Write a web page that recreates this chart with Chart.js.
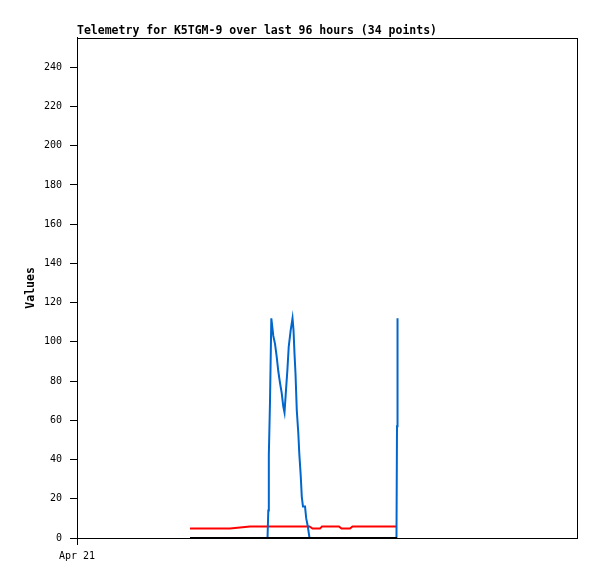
<!DOCTYPE html>
<html>
<head>
<meta charset="utf-8">
<script src="https://cdn.jsdelivr.net/npm/chart.js@4"></script>
<style>
  body { margin: 0; background: #fff; }
</style>
</head>
<body>
<canvas id="telemetryChart" width="597" height="579"></canvas>
<script>
// hours since Apr 21 00:00
const hours = [21.70, 29.38, 33.22, 36.58, 36.73, 36.83, 37.06, 37.31, 37.69, 38.02, 38.34, 38.65,
    38.98, 39.30, 39.61, 39.84, 40.13, 40.38, 40.65, 41.03, 41.38, 41.57, 41.76, 41.95, 42.20, 42.49,
    42.68, 42.95, 43.16, 43.39, 43.78, 44.01, 44.31, 44.64, 45.22, 46.66, 47.04, 50.30, 50.78, 52.42,
    52.90, 61.34, 61.44, 61.54];
const blueValues = [0, 0, 0, 0, 14, 42, 70, 112, 103, 99, 92.5, 85, 79, 74, 67, 64, 75.5, 85, 97.5,
    106, 112, 106, 94, 84, 65, 53.5, 43, 32, 21, 16, 16, 10, 6, 0, 0, 0, 0, 0, 0, 0, 0, 0, 57, 112];
const redValues = [4.8, 4.8, 5.9, 5.9, 5.9, 5.9, 5.9, 5.9, 5.9, 5.9, 5.9, 5.9, 5.9, 5.9, 5.9, 5.9,
    5.9, 5.9, 5.9, 5.9, 5.9, 5.9, 5.9, 5.9, 5.9, 5.9, 5.9, 5.9, 5.9, 5.9, 5.9, 5.9, 5.9, 5.9,
    4.8, 4.8, 5.9, 5.9, 4.8, 4.8, 5.9, 5.9, 5.9, 5.9];
const blackValues = hours.map(() => 0);

const yTicks = [0, 20, 40, 60, 80, 100, 120, 140, 160, 180, 200, 220, 240];
const xTicks = [0];
const xTickLabels = ['Apr 21'];

const toPoints = vals => vals.map((v, i) => ({ x: hours[i], y: v }));

// frame round the plot area
const frame = {
    id: 'frame',
    afterDraw(chart) {
        const a = chart.chartArea;
        const ctx = chart.ctx;
        ctx.save();
        ctx.strokeStyle = '#000';
        ctx.lineWidth = 1;
        ctx.strokeRect(Math.round(a.left) + 0.5, Math.round(a.top) + 0.5,
            Math.round(a.right - a.left), Math.round(a.bottom - a.top));
        ctx.restore();
    }
};

const mono = '"DejaVu Sans Mono", "Liberation Mono", monospace';

new Chart(document.getElementById('telemetryChart'), {
    type: 'line',
    data: {
        datasets: [
            { data: toPoints(blackValues), borderColor: '#000000', borderWidth: 2 },
            { data: toPoints(blueValues), borderColor: '#0066cc', borderWidth: 2 },
            { data: toPoints(redValues), borderColor: '#ff0000', borderWidth: 2 }
        ]
    },
    options: {
        responsive: false,
        animation: false,
        layout: { padding: { left: 0, right: 20, top: 0, bottom: 0 } },
        elements: { point: { radius: 0 }, line: { tension: 0 } },
        plugins: {
            legend: { display: false },
            tooltip: { enabled: false },
            title: {
                display: true,
                text: 'Telemetry for K5TGM-9 over last 96 hours (34 points)',
                align: 'start',
                fullSize: false,
                color: '#000',
                font: { family: mono, size: 11.5, weight: 'bold' },
                padding: { top: 24, bottom: 0 }
            }
        },
        scales: {
            x: {
                type: 'linear',
                min: 0,
                max: 96,
                afterBuildTicks: s => { s.ticks = xTicks.map(v => ({ value: v })); },
                afterFit: s => { s.height = 41; },
                ticks: {
                    color: '#000',
                    font: { family: mono, size: 10 },
                    padding: 5,
                    maxRotation: 0,
                    callback: (v, i) => xTickLabels[i]
                },
                grid: { drawOnChartArea: false, color: '#000', tickLength: 7 },
                border: { color: '#000' }
            },
            y: {
                type: 'linear',
                min: 0,
                max: 255,
                afterBuildTicks: s => { s.ticks = yTicks.map(v => ({ value: v })); },
                afterFit: s => { s.width = 77; },
                ticks: {
                    color: '#000',
                    font: { family: mono, size: 10 },
                    padding: 8
                },
                grid: { drawOnChartArea: false, color: '#000', tickLength: 7 },
                border: { color: '#000' },
                title: {
                    display: true,
                    text: 'Values',
                    color: '#000',
                    font: { family: mono, size: 11.5, weight: 'bold' },
                    padding: { top: 24, bottom: 0 }
                }
            }
        }
    },
    plugins: [frame]
});
</script>
</body>
</html>
